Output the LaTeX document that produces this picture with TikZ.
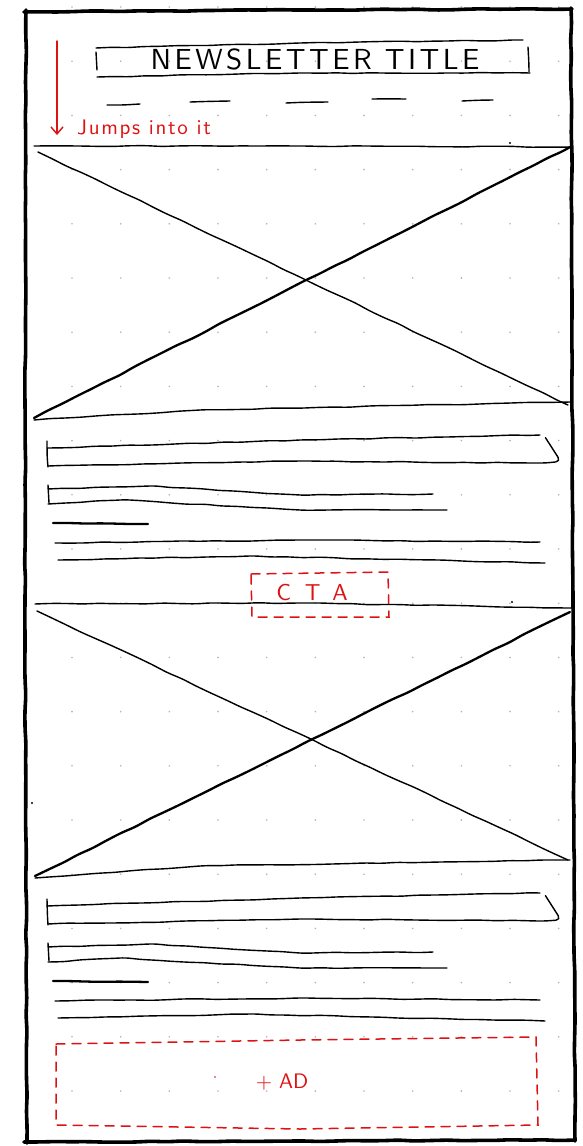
\documentclass[tikz,border=0pt]{standalone}
\usepackage{fontspec}
\usetikzlibrary{decorations.pathmorphing,arrows.meta}
\newfontfamily\handfont{lmsans10-regular.otf}
\definecolor{hred}{RGB}{222,18,18}
\definecolor{dotgray}{RGB}{180,180,180}
\tikzset{
  sk/.style={draw=black, line width=1.4pt, line cap=round, line join=round,
    decorate, decoration={random steps, segment length=16pt, amplitude=0.55pt}, rounded corners=5pt},
  skthick/.style={sk, line width=2.3pt},
  frame/.style={sk, line width=3.6pt},
  reddash/.style={draw=hred, line width=1.5pt, dash pattern=on 9pt off 7pt, line cap=round},
  hlabel/.style={inner sep=0pt}
}
\begin{document}
\pgfmathsetseed{7}
\begin{tikzpicture}[x=1pt,y=-1pt]
\useasboundingbox (0,0) rectangle (582,1146);
\fill[white] (0,0) rectangle (582,1146);
% dot grid
\foreach \i in {0,...,10}{
  \foreach \j in {0,...,20}{
    \fill[dotgray] ({72+48.67*\i},{7+54.2*\j}) circle (0.9);
  }
}
% outer frame
\draw[frame] (24,12) -- (300,10) -- (572,9);
\draw[frame] (571,8) -- (573,600) -- (575,1141);
\draw[frame] (575,1140) -- (300,1141) -- (24,1142);
\draw[frame] (27,1143) -- (25,600) -- (26,10);
% title
\draw[sk] (96,48) -- (300,43) -- (523,40);
\draw[sk] (97,77) -- (300,73) -- (530,73);
\draw[sk] (96,52) -- (97,70);
\draw[sk] (528,47) -- (529,72);
\node[hlabel, font=\handfont\fontsize{29}{29}\selectfont\addfontfeature{LetterSpace=12}] (title) at (315,59) {NEWSLETTER TITLE};
% dashes
\draw[sk] (107,105) -- (140,104);
\draw[sk] (190,102) -- (230,101);
\draw[sk] (286,103) -- (328,102);
\draw[sk] (372,99) -- (406,99);
\draw[sk] (462,101) -- (493,100);
% red arrow
\coordinate (a0) at (57,41);
\coordinate (a1) at (57,135);
\draw[hred, line width=1.4pt, line cap=round, -{Straight Barb[length=7pt,width=12pt]}] (a0) -- (a1);
\node[hlabel, anchor=base west, text=hred, font=\handfont\fontsize{21}{21}\selectfont\addfontfeature{LetterSpace=8}] (jump) at (77,134) {Jumps into it};
% image 1
\draw[sk] (34,146) -- (300,146) -- (572,147);
\draw[sk] (34,420) -- (200,410) -- (570,402);
\draw[sk] (38,152) -- (568,405);
\draw[skthick] (34,418) -- (570,147);
% block 1 and 2
\foreach \dy in {0,458}{
  \draw[sk] (47,{441+\dy}) -- (48,{467+\dy});
  \draw[sk] (47,{448+\dy}) -- (300,{440+\dy}) -- (540,{435+\dy});
  \draw[sk] (48,{466+\dy}) -- (300,{461+\dy}) -- (540,{463+\dy}) .. controls (557,{462+\dy}) and (555,{449+\dy}) .. (541,{441+\dy});
  \draw[sk] (48,{485+\dy}) -- (49,{503+\dy});
  \draw[sk] (48,{489+\dy}) -- (150,{486+\dy}) -- (300,{495+\dy}) -- (433,{494+\dy});
  \draw[sk] (48,{504+\dy}) -- (120,{500+\dy}) -- (300,{510+\dy}) -- (433,{510+\dy}) .. controls (438,{508+\dy}) .. (434,{500+\dy});
  \draw[skthick] (53,{523+\dy}) -- (148,{524+\dy});
  \draw[sk] (55,{543+\dy}) -- (300,{540+\dy}) -- (540,{542+\dy});
  \draw[sk] (58,{560+\dy}) -- (250,{556+\dy}) -- (545,{563+\dy});
}
% CTA
\draw[reddash] (251,574) -- (388,572) -- (389,617) -- (252,617) -- cycle;
\node[hlabel, text=hred, font=\handfont\fontsize{23}{23}\selectfont\addfontfeature{LetterSpace=60}] (cta) at (312,592) {CTA};
% image 2
\draw[sk] (35,604) -- (300,603) -- (572,608);
\draw[sk] (35,878) -- (200,866) -- (570,860);
\draw[sk] (37,611) -- (568,860);
\draw[skthick] (35,876) -- (570,612);
% AD
\draw[reddash] (56,1044) -- (300,1040) -- (536,1037) -- (538,1125) -- (300,1129) -- (56,1125) -- cycle;
\node[hlabel, text=hred, font=\handfont\fontsize{21}{21}\selectfont] (ad) at (282,1082) {+ AD};
% stray marks
\fill (510,143) circle (1.1);
\fill (512,602) circle (1.1);
\fill (32,803) circle (1.1);
\fill[hred] (215,1077) circle (0.9);
\end{tikzpicture}
\end{document}
